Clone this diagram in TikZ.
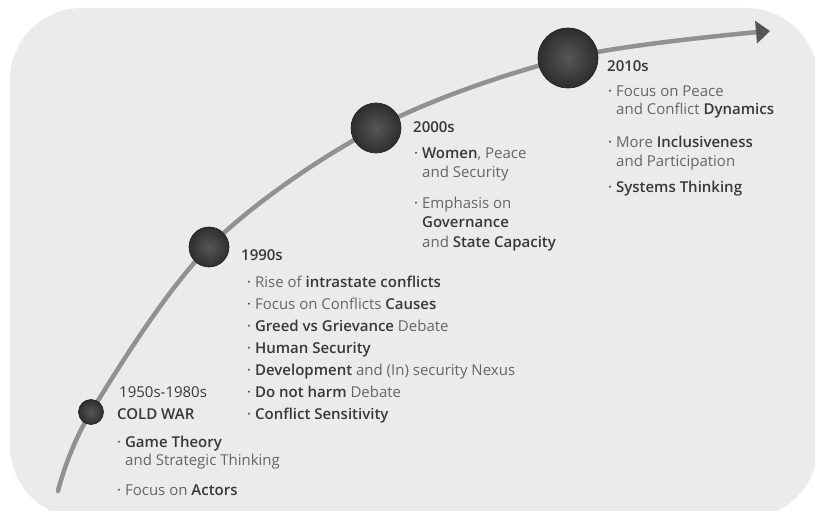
\documentclass[tikz,border=0pt]{standalone}
\usepackage{fontspec}
\setmainfont{Open Sans}[BoldFont={Open Sans Semibold}]
\usetikzlibrary{arrows.meta}
\definecolor{bg}{HTML}{EBEBEB}
\definecolor{dk}{HTML}{383838}
\definecolor{lt}{HTML}{666666}
\definecolor{cv}{HTML}{919191}
\definecolor{tipc}{HTML}{555555}
\newcommand\hb[1]{{\bfseries\color{dk}#1}}
\newcommand\bul{{\color{dk}·}}
\tikzset{
  yr/.style={anchor=base west, inner sep=0pt, text=dk, font=\fontsize{15}{18}\selectfont\bfseries},
  ln/.style={anchor=base west, inner sep=0pt, text=lt, font=\fontsize{15}{18}\selectfont},
  ball/.style={circle, inner sep=0pt, shading=radial, inner color=black!66, outer color=black!82, draw=black!88, line width=0.6pt},
  curve/.style={draw=cv, line width=4.5pt, line cap=round},
}
\begin{document}
\begin{tikzpicture}[x=1pt,y=-1pt]
\useasboundingbox (0,0) rectangle (815,511);
\fill[bg, rounded corners=72] (10,8) rectangle (818,518);
% path points
\coordinate (s) at (58,491);
\coordinate (p1) at (91,412);
\coordinate (p2) at (209,247);
\coordinate (p3) at (376,128);
\coordinate (p4) at (568,58);
\coordinate (e) at (770,31);
\draw[curve, -{Triangle[length=14pt,width=22pt,color=tipc]}] plot[smooth, tension=0.55] coordinates {(s) (p1) (p2) (p3) (p4) (e)};
\node[ball, minimum size=25] (c1) at (p1) {};
\node[ball, minimum size=40] (c2) at (p2) {};
\node[ball, minimum size=50] (c3) at (p3) {};
\node[ball, minimum size=60] (c4) at (p4) {};
% Cold war
\node[ln, text=dk] (a0) at (119,397) {1950s-1980s};
\node[yr] (a1) at (117,419) {COLD WAR};
\node[ln] (a2) at (117,447) {\bul{} \hb{Game Theory}};
\node[ln] (a3) at (125,465) {and Strategic Thinking};
\node[ln] (a4) at (117,495) {\bul{} Focus on \hb{Actors}};
% 1990s
\node[yr] (b0) at (241,260) {1990s};
\node[ln] (b1) at (247,287) {\bul{} Rise of \hb{intrastate conflicts}};
\node[ln] (b2) at (247,309) {\bul{} Focus on Conflicts \hb{Causes}};
\node[ln] (b3) at (247,331) {\bul{} \hb{Greed vs Grievance} Debate};
\node[ln] (b4) at (247,353) {\bul{} \hb{Human Security}};
\node[ln] (b5) at (247,375) {\bul{} \hb{Development} and (In) security Nexus};
\node[ln] (b6) at (247,397) {\bul{} \hb{Do not harm} Debate};
\node[ln] (b7) at (247,419) {\bul{} \hb{Conflict Sensitivity}};
% 2000s
\node[yr] (d0) at (413,132) {2000s};
\node[ln] (d1) at (414,158) {\bul{} \hb{Women}, Peace};
\node[ln] (d2) at (422,178) {and Security};
\node[ln] (d3) at (414,208) {\bul{} Emphasis on};
\node[ln] (d4) at (422,227) {\hb{Governance}};
\node[ln] (d5) at (422,247) {and \hb{State Capacity}};
% 2010s
\node[yr] (f0) at (607,72) {2010s};
\node[ln] (f1) at (608,97) {\bul{} Focus on Peace};
\node[ln] (f2) at (616,115) {and Conflict \hb{Dynamics}};
\node[ln] (f3) at (608,147) {\bul{} More \hb{Inclusiveness}};
\node[ln] (f4) at (616,166) {and Participation};
\node[ln] (f5) at (608,193) {\bul{} \hb{Systems Thinking}};
\end{tikzpicture}
\end{document}
